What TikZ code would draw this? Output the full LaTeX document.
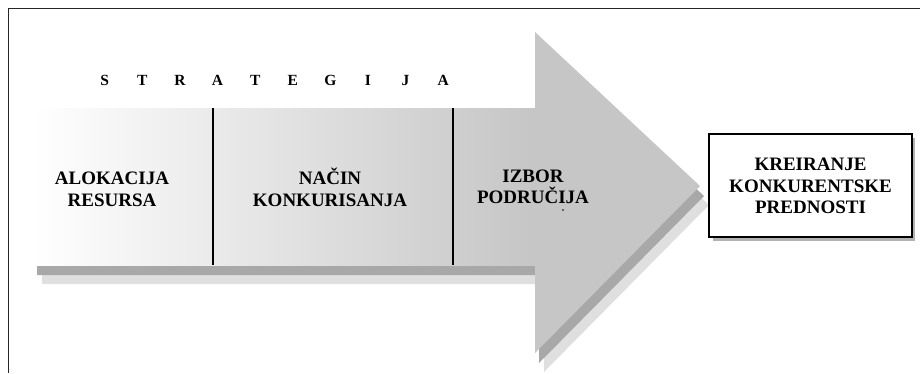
\documentclass[tikz,border=0pt]{standalone}
\usepackage{fontspec}
\setmainfont{Liberation Serif}
\begin{document}
\begin{tikzpicture}[x=1pt,y=-1pt,
  lbl/.style={font=\bfseries\fontsize{19}{22}\selectfont, inner sep=0pt, anchor=base},
  divider/.style={line width=1.4pt, black},
  frameline/.style={line width=1.6pt, black!85}
]
\useasboundingbox (0,0) rectangle (920,373);
% frame (top and left only)
\draw[frameline] (920,8.5) -- (8.5,8.5) -- (8.5,373);
% shadows
\fill[gray!25, shift={(9,19)}] (33,108) -- (535,108) -- (535,32) -- (700,186) -- (535,353) -- (535,265) -- (33,265) -- cycle;
\fill[gray!68, shift={(4,10)}] (33,108) -- (535,108) -- (535,32) -- (700,186) -- (535,353) -- (535,265) -- (33,265) -- cycle;
% body with gradient
\shade[left color=white, right color=gray!45] (33,108) rectangle (535,265);
% head
\fill[gray!45] (535,32) -- (700,186) -- (535,353) -- cycle;
% dividers
\coordinate (d1t) at (213,108); \coordinate (d1b) at (213,265);
\coordinate (d2t) at (453,108); \coordinate (d2b) at (453,265);
\draw[divider] (d1t) -- (d1b);
\draw[divider] (d2t) -- (d2b);
% title
\node[font=\bfseries\fontsize{15.5}{18}\selectfont, inner sep=0pt, anchor=base] (title) at (274,85)
  {\makebox[37.6pt]{S}\makebox[37.6pt]{T}\makebox[37.6pt]{R}\makebox[37.6pt]{A}\makebox[37.6pt]{T}\makebox[37.6pt]{E}\makebox[37.6pt]{G}\makebox[37.6pt]{I}\makebox[37.6pt]{J}\makebox[37.6pt]{A}};
% labels
\node[lbl] (alok1) at (112,184.5) {ALOKACIJA};
\node[lbl] (alok2) at (112,206.5) {RESURSA};
\node[lbl] (nacin1) at (330,184.5) {NAČIN};
\node[lbl] (nacin2) at (330,206.5) {KONKURISANJA};
\node[lbl] (izbor1) at (533,182.5) {IZBOR};
\node[lbl] (izbor2) at (533,203.5) {PODRUČIJA};
\fill (563,210) circle (0.8);
% result box
\fill[gray!60] (713,138) rectangle (915,241);
\node[draw=black, line width=1.4pt, fill=white, minimum width=203pt, minimum height=103pt, inner sep=0pt] (kreiranje) at (810.5,185.5) {};
\node[lbl] (kr1) at (810.5,170.5) {KREIRANJE};
\node[lbl] (kr2) at (810.5,192.5) {KONKURENTSKE};
\node[lbl] (kr3) at (810.5,213.5) {PREDNOSTI};
\end{tikzpicture}
\end{document}
